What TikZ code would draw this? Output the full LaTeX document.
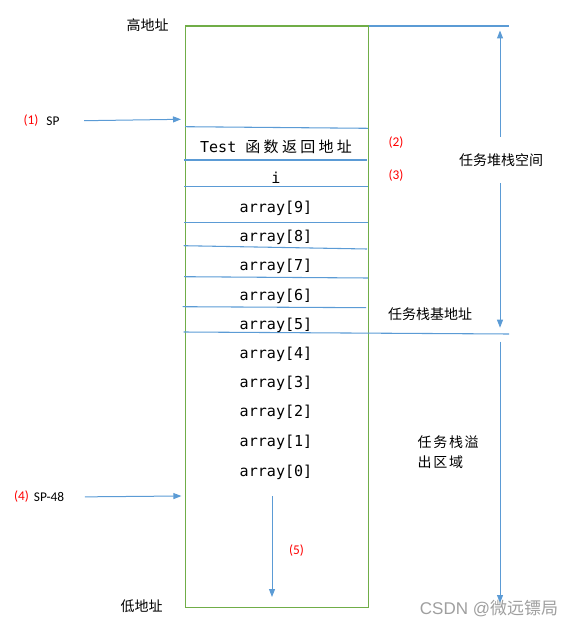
\documentclass[tikz,border=0pt]{standalone}
\usepackage{fontspec}
\usetikzlibrary{arrows.meta}
\setmainfont{Liberation Sans}
\newfontfamily\cjk{Noto Sans CJK SC}
\newfontfamily\cjkwide{Noto Sans CJK SC}[LetterSpace=22]
\newfontfamily\cjkspread{Noto Sans CJK SC}[LetterSpace=12]
\newfontfamily\cellfont{DejaVu Sans Mono}
\newfontfamily\tagfont{Carlito}
\definecolor{boxgreen}{HTML}{70AD47}
\definecolor{lineblue}{HTML}{5B9BD5}

\begin{document}
\begin{tikzpicture}[x=0.75pt, y=-0.75pt,
  sep/.style={color=lineblue, line width=0.8pt},
  arr/.style={-{Triangle[length=6pt,width=4.5pt]}, color=lineblue, line width=0.75pt},
  cell/.style={font=\fontsize{11.3}{12}\cellfont},
  addr/.style={font=\fontsize{10.5}{12}\cjk},
  tag/.style={font=\fontsize{10}{11}\tagfont},
  num/.style={tag, color=red}]
\useasboundingbox (0,0) rectangle (572,627);

% stack frame
\draw[color=boxgreen, line width=0.9pt] (185.5,26) rectangle (368.5,607.5);
\draw[sep] (368.5,26) -- (509,26);
\draw[sep] (185,126.7) -- (368,128.3);
\draw[sep] (183.6,160) -- (367,160);
\draw[sep] (184,186.7) -- (368,186.7);
\draw[sep] (184,222.7) -- (368,222.7);
\draw[sep] (183.6,245.7) -- (367,249);
\draw[sep] (184,276.7) -- (368,278);
\draw[sep] (182.5,306.7) -- (366,307.7);
\draw[sep] (183.6,332) -- (509,334);

% cell contents
\node[cell] (ret) at (276,147) {Test {\fontsize{11.25}{12}\cjkwide 函数返回地址}};
\node[cell] (vi) at (276,178) {i};
\node[cell] (a9) at (276,208) {array[9]};
\node[cell] (a8) at (276,237) {array[8]};
\node[cell] (a7) at (276,266) {array[7]};
\node[cell] (a6) at (276,296) {array[6]};
\node[cell] (a5) at (276,325) {array[5]};
\node[cell] (a4) at (276,354) {array[4]};
\node[cell] (a3) at (276,383) {array[3]};
\node[cell] (a2) at (276,412) {array[2]};
\node[cell] (a1) at (276,442) {array[1]};
\node[cell] (a0) at (276,472) {array[0]};

% addresses
\node[addr] (high) at (147.5,25) {高地址};
\node[addr] (low) at (141.5,606.5) {低地址};
\node[addr] (base) at (430,314) {任务栈基地址};
\node[addr, minimum height=34.5pt] (space) at (501,160) {任务堆栈空间};
\node[addr, anchor=west, align=left, font=\fontsize{10.5}{15}\cjkspread] (ovf) at (413,452) {任务栈溢\\出区域};

% stack pointers
\node[num] (n1) at (31,121) {(1)};
\node[tag] (sp) at (53,121) {SP};
\node[num] (n2) at (396,143) {(2)};
\node[num] (n3) at (396,176) {(3)};
\node[num] (n4) at (21.5,497) {(4)};
\node[tag] (sp48) at (49,497) {SP-48};
\node[num] (n5) at (296.5,551) {(5)};

\coordinate (spTip) at (181,119.3);
\coordinate (sp48Tip) at (181.4,496);
\coordinate (growTail) at (272,496);
\coordinate (growTip) at (272,597);
\coordinate (spaceTop) at (500,30.5);
\coordinate (spaceBot) at (500,327.7);
\coordinate (ovfTail) at (500,341.7);
\coordinate (ovfTip) at (500,603);

\draw[arr, shorten <=15pt] (sp.east) -- (spTip);
\draw[arr, shorten <=12pt] (sp48.east) -- (sp48Tip);
\draw[arr] (growTail) -- (growTip);
\draw[arr] (space.north -| spaceTop) -- (spaceTop);
\draw[arr] (space.south -| spaceBot) -- (spaceBot);
\draw[arr] (ovfTail) -- (ovfTip);

\node[color=gray!75, font=\fontsize{12.75}{14}\selectfont] (mark) at (489,609) {CSDN @{\cjk 微远镖局}};
\end{tikzpicture}
\end{document}
